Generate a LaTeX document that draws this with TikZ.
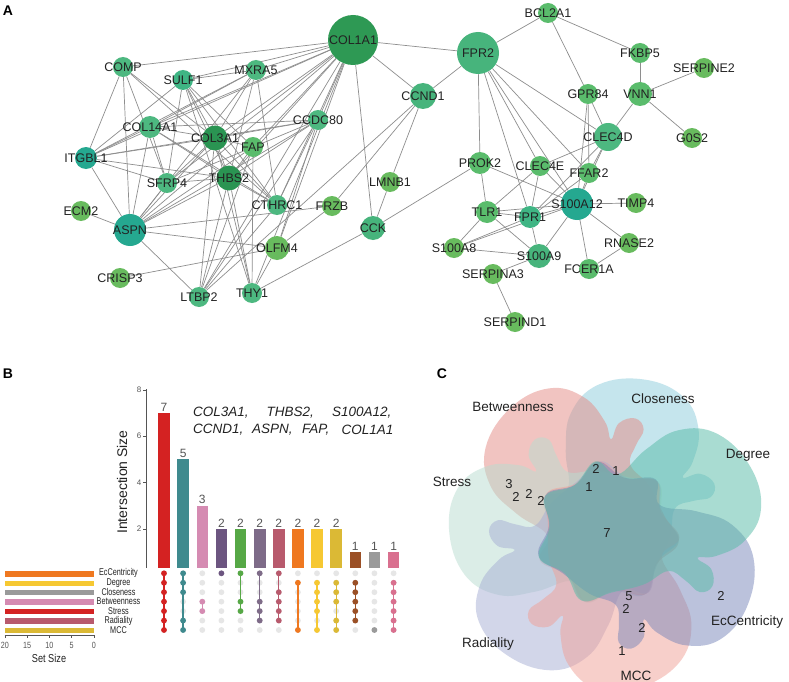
\documentclass[tikz,border=0pt]{standalone}
\usepackage{fontspec}
\setmainfont{Liberation Sans}
\setsansfont{Liberation Sans}
\pgfdeclarelayer{bg}
\pgfdeclarelayer{edges}
\pgfsetlayers{bg,edges,main}
\definecolor{edgegrey}{HTML}{8E8E8E}
\definecolor{labtext}{HTML}{222222}
\definecolor{gA}{HTML}{2E9954}
\definecolor{gB}{HTML}{47B47C}
\definecolor{gC}{HTML}{2A9452}
\definecolor{gT}{HTML}{25A890}
\definecolor{gM}{HTML}{4DB880}
\definecolor{gL}{HTML}{5ABC6C}
\definecolor{gY}{HTML}{68BB5E}
\definecolor{gQ}{HTML}{3FB584}
% upset colours
\definecolor{uRed}{HTML}{D42222}
\definecolor{uTeal}{HTML}{3F8A8E}
\definecolor{uPink}{HTML}{D58BB2}
\definecolor{uPurple}{HTML}{6C5580}
\definecolor{uGreen}{HTML}{56A846}
\definecolor{uGpurple}{HTML}{7E6B88}
\definecolor{uRose}{HTML}{B85A6D}
\definecolor{uOrange}{HTML}{EF7820}
\definecolor{uYellow}{HTML}{F6C832}
\definecolor{uMustard}{HTML}{DBB935}
\definecolor{uBrown}{HTML}{9B5026}
\definecolor{uGrey}{HTML}{9A9A9A}
\definecolor{uPink2}{HTML}{D9708F}
\definecolor{dotgrey}{HTML}{E6E6E6}
\definecolor{axgrey}{HTML}{555555}
% venn colours
\definecolor{vbet}{HTML}{E58A84}
\definecolor{vclo}{HTML}{8CCCDC}
\definecolor{vdeg}{HTML}{55BBA6}
\definecolor{vecc}{HTML}{7886BA}
\definecolor{vmcc}{HTML}{F0A096}
\definecolor{vrad}{HTML}{A6AED4}
\definecolor{vstr}{HTML}{B8DDD0}
\newcommand{\gn}[5]{\node[gnode, minimum size=#4pt, fill=#5] (#1) at (#2,#3) {};}
\newcommand{\gl}[2]{\node[glab] (l#1) at (#1.center) {#2};}
\newcommand{\upcol}[7]{%
  \fill[#4] ({#2-5.8},568) rectangle ({#2+5.8},{575.4-23.2*#3});
  \node[vallab] (val#1) at (#2,{575.4-23.2*#3}) {#3};
  \foreach \r in {0,...,6} \fill[dotgrey] (#2,{573.3+9.45*\r}) circle (2.9);
  \draw[#4, line width=1.3pt] (#2,{573.3+9.45*#6}) -- (#2,{573.3+9.45*#7});
  \foreach \r in {#5} \fill[#4] (#2,{573.3+9.45*\r}) circle (2.9);
}
\begin{document}
\begin{tikzpicture}[x=1pt,y=-1pt,
  gnode/.style={circle, inner sep=0pt, draw=none},
  glab/.style={font=\fontsize{12.5}{13}\selectfont, text=labtext, inner sep=0pt},
  edge/.style={draw=edgegrey, line width=0.7pt},
  panel/.style={font=\fontsize{14}{14}\selectfont\bfseries, text=black, inner sep=0pt},
  vallab/.style={font=\fontsize{12}{12}\selectfont, text=axgrey, anchor=south, inner sep=1.5pt},
  setlab/.style={font=\fontsize{9.8}{9.8}\selectfont, text=labtext, inner sep=0pt, xscale=0.74},
  ticklab/.style={font=\fontsize{8}{8}\selectfont, text=axgrey, inner sep=0pt},
  gene/.style={font=\fontsize{13.5}{14}\selectfont\itshape, text=labtext, inner sep=0pt, anchor=west},
  vlab/.style={font=\fontsize{13.5}{14}\selectfont, text=labtext, inner sep=0pt},
  vnum/.style={font=\fontsize{13}{13}\selectfont, text=labtext, inner sep=0pt}]
\useasboundingbox (0,0) rectangle (789,682);
\begin{pgfonlayer}{bg}
\fill[white] (0,0) rectangle (789,682);
\end{pgfonlayer}

% ---------------- Panel A ----------------
\node[panel] (pA) at (8,11) {A};
\gn{col1a1}{353}{40}{50}{gA}
\gn{comp}{123}{67}{20}{gM}
\gn{sulf1}{183}{80}{20}{gQ}
\gn{mxra5}{256}{70}{20}{gM}
\gn{ccdc80}{318}{120}{20}{gM}
\gn{col14a1}{150}{127}{22}{gM}
\gn{col3a1}{215}{138}{25}{gC}
\gn{fap}{253}{147}{20}{gL}
\gn{itgbl1}{86}{158}{22}{gT}
\gn{sfrp4}{167}{183}{20}{gM}
\gn{thbs2}{229}{178}{25}{gC}
\gn{cthrc1}{277}{205}{20}{gM}
\gn{frzb}{332}{206}{20}{gY}
\gn{ecm2}{81}{211}{20}{gY}
\gn{aspn}{130}{230}{32}{gT}
\gn{cck}{373}{228}{24}{gB}
\gn{olfm4}{277}{248}{24}{gY}
\gn{crisp3}{120}{278}{20}{gY}
\gn{ltbp2}{199}{297}{20}{gM}
\gn{thy1}{252}{293}{20}{gM}
\gn{lmnb1}{390}{182}{20}{gY}
\gn{ccnd1}{423}{96}{26}{gB}
\gn{fpr2}{478}{53}{42}{gB}
\gn{bcl2a1}{548}{13}{20}{gL}
\gn{fkbp5}{640}{53}{20}{gL}
\gn{serpine2}{704}{68}{20}{gY}
\gn{gpr84}{588}{94}{20}{gL}
\gn{vnn1}{640}{94}{24}{gL}
\gn{clec4d}{608}{137}{28}{gM}
\gn{g0s2}{692}{138}{20}{gY}
\gn{prok2}{480}{163}{22}{gL}
\gn{clec4e}{540}{166}{20}{gL}
\gn{ffar2}{589}{173}{20}{gL}
\gn{s100a12}{577}{204}{32}{gT}
\gn{timp4}{636}{203}{20}{gY}
\gn{tlr1}{487}{212}{22}{gL}
\gn{fpr1}{530}{217}{22}{gQ}
\gn{s100a8}{454}{248}{20}{gY}
\gn{s100a9}{539}{256}{24}{gB}
\gn{rnase2}{629}{243}{20}{gY}
\gn{fcer1a}{589}{269}{20}{gL}
\gn{serpina3}{493}{274}{20}{gY}
\gn{serpind1}{515}{322}{20}{gY}

\begin{pgfonlayer}{edges}
\foreach \a/\b in {col1a1/comp, col1a1/sulf1, col1a1/mxra5, col1a1/col14a1, col1a1/itgbl1,
  col1a1/col3a1, col1a1/fap, col1a1/thbs2, col1a1/sfrp4, col1a1/aspn, col1a1/ccdc80,
  col1a1/cthrc1, col1a1/ltbp2, col1a1/thy1, col1a1/cck, col1a1/ccnd1, col1a1/fpr2, col1a1/olfm4,
  comp/itgbl1, comp/aspn, comp/sfrp4, comp/col3a1, comp/cthrc1,
  sulf1/mxra5, sulf1/itgbl1, sulf1/sfrp4, sulf1/col3a1, sulf1/thbs2, sulf1/cthrc1, sulf1/thy1, sulf1/fap,
  mxra5/col14a1, mxra5/itgbl1, mxra5/col3a1, mxra5/thbs2, mxra5/cthrc1, mxra5/aspn,
  ccdc80/col14a1, ccdc80/col3a1, ccdc80/itgbl1, ccdc80/thbs2, ccdc80/sfrp4, ccdc80/aspn,
  ccdc80/cthrc1, ccdc80/ltbp2, ccdc80/olfm4,
  col14a1/itgbl1, col14a1/col3a1, col14a1/sfrp4, col14a1/aspn, col14a1/thbs2, col14a1/cthrc1,
  col3a1/itgbl1, col3a1/thbs2, col3a1/sfrp4, col3a1/aspn, col3a1/fap, col3a1/cthrc1, col3a1/ltbp2, col3a1/thy1,
  fap/thbs2, fap/aspn, fap/thy1, fap/ltbp2,
  itgbl1/sfrp4, itgbl1/aspn, itgbl1/thbs2,
  sfrp4/thbs2, sfrp4/aspn,
  thbs2/aspn, thbs2/cthrc1, thbs2/ltbp2, thbs2/thy1,
  cthrc1/ltbp2,
  aspn/ecm2, aspn/frzb, aspn/olfm4, aspn/ltbp2,
  olfm4/crisp3, olfm4/frzb, olfm4/thy1,
  frzb/ccnd1, thy1/cck, cck/lmnb1, cck/prok2, lmnb1/ccnd1, ccnd1/ltbp2,
  fpr2/bcl2a1, fpr2/ccnd1, fpr2/prok2, fpr2/fpr1, fpr2/clec4e, fpr2/s100a12, fpr2/ffar2, fpr2/clec4d,
  bcl2a1/fkbp5, bcl2a1/gpr84, fkbp5/vnn1, vnn1/serpine2, vnn1/g0s2, vnn1/clec4d,
  gpr84/clec4d, gpr84/ffar2, gpr84/s100a12,
  clec4d/clec4e, clec4d/ffar2, clec4d/s100a12, clec4d/fpr1,
  prok2/tlr1, prok2/s100a12,
  clec4e/tlr1, clec4e/fpr1, clec4e/s100a12,
  ffar2/fpr1, ffar2/s100a12,
  s100a12/timp4, s100a12/rnase2, s100a12/fcer1a, s100a12/s100a9, s100a12/fpr1, s100a12/tlr1, s100a12/s100a8,
  tlr1/fpr1, tlr1/s100a8, tlr1/s100a9, fpr1/s100a8, fpr1/s100a9, s100a8/s100a9,
  s100a9/serpina3, serpina3/serpind1, rnase2/fcer1a}
  \draw[edge] (\a) -- (\b);
\end{pgfonlayer}

\gl{col1a1}{COL1A1} \gl{comp}{COMP} \gl{sulf1}{SULF1} \gl{mxra5}{MXRA5}
\gl{ccdc80}{CCDC80} \gl{col14a1}{COL14A1} \gl{col3a1}{COL3A1} \gl{fap}{FAP}
\gl{itgbl1}{ITGBL1} \gl{sfrp4}{SFRP4} \gl{thbs2}{THBS2} \gl{cthrc1}{CTHRC1}
\gl{frzb}{FRZB} \gl{ecm2}{ECM2} \gl{aspn}{ASPN} \gl{cck}{CCK} \gl{olfm4}{OLFM4}
\gl{crisp3}{CRISP3} \gl{ltbp2}{LTBP2} \gl{thy1}{THY1} \gl{lmnb1}{LMNB1}
\gl{ccnd1}{CCND1} \gl{fpr2}{FPR2} \gl{bcl2a1}{BCL2A1} \gl{fkbp5}{FKBP5}
\gl{serpine2}{SERPINE2} \gl{gpr84}{GPR84} \gl{vnn1}{VNN1} \gl{clec4d}{CLEC4D}
\gl{g0s2}{G0S2} \gl{prok2}{PROK2} \gl{clec4e}{CLEC4E} \gl{ffar2}{FFAR2}
\gl{s100a12}{S100A12} \gl{timp4}{TIMP4} \gl{tlr1}{TLR1} \gl{fpr1}{FPR1}
\gl{s100a8}{S100A8} \gl{s100a9}{S100A9} \gl{rnase2}{RNASE2} \gl{fcer1a}{FCER1A}
\gl{serpina3}{SERPINA3} \gl{serpind1}{SERPIND1}

% ---------------- Panel B ----------------
\node[panel] (pB) at (8,374) {B};
\coordinate (axT) at (146,389);
\coordinate (axB) at (146,568);
\draw[axgrey, line width=0.6pt] (axT) -- (axB);
\foreach \v in {2,4,6,8} {
  \draw[axgrey, line width=0.6pt] (143,{575.4-23.2*\v}) -- (146,{575.4-23.2*\v});
  \node[ticklab, anchor=east] (yt\v) at (141.5,{575.4-23.2*\v}) {\v};
}
\node[font=\fontsize{14}{14}\selectfont, text=labtext, rotate=90, inner sep=0pt] (ylab) at (122,482) {Intersection Size};
\upcol{1}{164.0}{7}{uRed}{0,1,2,3,4,5,6}{0}{6}
\upcol{2}{183.1}{5}{uTeal}{0,1,2,5,6}{0}{6}
\upcol{3}{202.3}{3}{uPink}{3,4}{3}{4}
\upcol{4}{221.4}{2}{uPurple}{0}{0}{0}
\upcol{5}{240.5}{2}{uGreen}{0,3,4}{0}{4}
\upcol{6}{259.7}{2}{uGpurple}{0,3,4,5}{0}{5}
\upcol{7}{278.8}{2}{uRose}{0,2,3,4,5}{0}{5}
\upcol{8}{297.9}{2}{uOrange}{1,6}{1}{6}
\upcol{9}{317.0}{2}{uYellow}{1,2,3,4,6}{1}{6}
\upcol{10}{336.2}{2}{uMustard}{1,2,3,5,6}{1}{6}
\upcol{11}{355.3}{1}{uBrown}{1,2,3,4,5}{1}{5}
\upcol{12}{374.4}{1}{uGrey}{6}{6}{6}
\upcol{13}{393.6}{1}{uPink2}{1,2,3,4,5,6}{1}{6}
% gene list
\node[gene] (g1) at (193,413) {COL3A1,};
\node[gene] (g2) at (266.5,413) {THBS2,};
\node[gene] (g3) at (332,413) {S100A12,};
\node[gene] (g4) at (193,430) {CCND1,};
\node[gene] (g5) at (252,430) {ASPN,};
\node[gene] (g6) at (302,430) {FAP,};
\node[gene] (g7) at (341.5,430) {COL1A1};
% set sizes
\foreach \n/\c/\lab [count=\k from 0] in {ecc/uOrange/EcCentricity, deg/uYellow/Degree, clo/uGrey/Closeness,
   bet/uPink/Betweenness, str/uRed/Stress, rad/uRose/Radiality, mcc/uMustard/MCC} {
  \fill[\c] (5,{573.8+9.45*\k-2.7}) rectangle (94,{573.8+9.45*\k+2.7});
  \node[setlab] (s\n) at (118.5,{573.3+9.45*\k}) {\lab};
}
\draw[axgrey, line width=0.6pt] (4.5,635) -- (94.5,635);
\foreach \v in {0,5,10,15,20} {
  \draw[axgrey, line width=0.6pt] ({94-4.45*\v},635) -- ({94-4.45*\v},638);
  \node[ticklab, font=\fontsize{9}{9}\selectfont, xscale=0.8] (xt\v) at ({94-4.45*\v},645) {\v};
}
\node[font=\fontsize{11.5}{11.5}\selectfont, text=labtext, inner sep=0pt, xscale=0.8] (xlab) at (49,658) {Set Size};

% ---------------- Panel C ----------------
\node[panel] (pC) at (442,374) {C};
\begin{scope}[shift={(607,533)}]
\foreach \ang/\col in {76/vclo, 127.4/vbet, 178.8/vstr, 230.2/vrad, 281.6/vmcc, 333/vecc, 24.4/vdeg}
  \fill[\col, fill opacity=0.5, rotate=\ang] plot[smooth cycle, tension=0.7] coordinates {
    (158,0) (150,42) (122,64) (90,66) (72,60)
    (80,76) (74,92) (60,92) (52,76) (40,60)
    (12,62) (-21,56) (-51,51) (-55,20) (-72,-6) (-50,-29) (-41,-59) (-10,-57) (19,-70) (34,-49)
    (70,-60) (108,-64) (142,-44)};
\end{scope}
\node[vlab] (cBet) at (513,407) {Betweenness};
\node[vlab] (cClo) at (663,399) {Closeness};
\node[vlab] (cDeg) at (748,455) {Degree};
\node[vlab] (cStr) at (452,482) {Stress};
\node[vlab] (cEcc) at (747,622) {EcCentricity};
\node[vlab] (cRad) at (488,644) {Radiality};
\node[vlab] (cMcc) at (636,676) {MCC};
\node[vnum] (n1) at (596,469) {2};
\node[vnum] (n2) at (616,471) {1};
\node[vnum] (n3) at (589,487) {1};
\node[vnum] (n4) at (509,484) {3};
\node[vnum] (n5) at (516,497) {2};
\node[vnum] (n6) at (529,494) {2};
\node[vnum] (n7) at (541,501) {2};
\node[vnum] (n8) at (607,533) {7};
\node[vnum] (n9) at (629,596) {5};
\node[vnum] (n10) at (626,609) {2};
\node[vnum] (n11) at (642,628) {2};
\node[vnum] (n12) at (622,651) {1};
\node[vnum] (n13) at (721,596) {2};
\end{tikzpicture}
\end{document}
